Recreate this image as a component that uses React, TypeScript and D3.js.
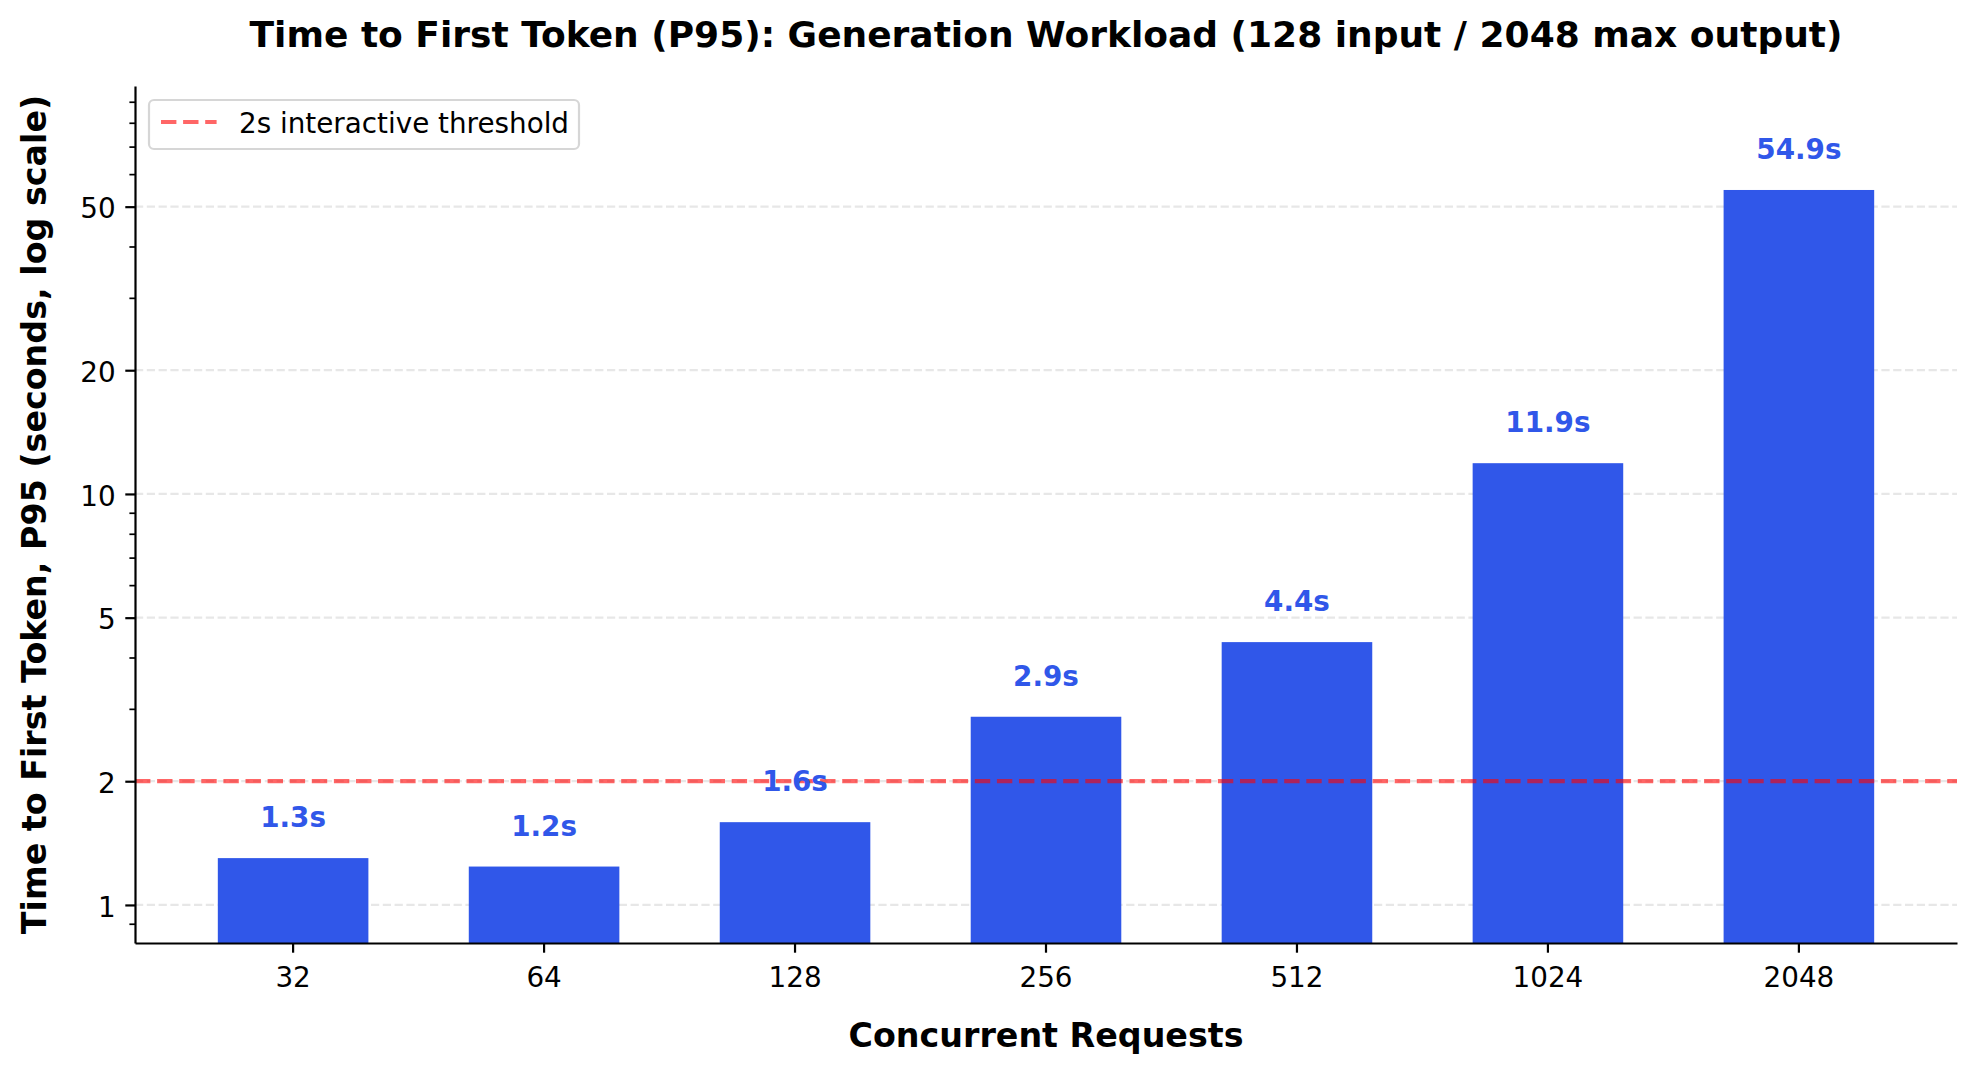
import { useEffect, useRef } from "react";
import * as d3 from "d3";

const categories = ["32", "64", "128", "256", "512", "1024", "2048"];
const ttftP95 = [1.3, 1.24, 1.59, 2.87, 4.36, 11.88, 54.9];
const majorTicks = [1, 2, 5, 10, 20, 50];
const minorTicks = [0.9, 3, 4, 6, 7, 8, 9, 30, 40, 60, 70, 80, 90];
const threshold = 2;

export default function App() {
  const chartRef = useRef<SVGSVGElement>(null);

  useEffect(() => {
    if (!chartRef.current) return;
    d3.select(chartRef.current).selectAll("*").remove();

    const width = 1977;
    const height = 1074;
    const margin = { top: 86, right: 20, bottom: 131, left: 135 };
    const font = "DejaVu Sans, sans-serif";
    const barColor = "#3057e9";

    const svg = d3
      .select(chartRef.current)
      .attr("width", width)
      .attr("height", height)
      .attr("viewBox", `0 0 ${width} ${height}`)
      .style("font-family", font);

    svg.append("rect").attr("width", width).attr("height", height).attr("fill", "#fff");

    const x = d3
      .scaleBand()
      .domain(categories)
      .range([margin.left, width - margin.right])
      .paddingInner(0.4)
      .paddingOuter(0.33);

    const y = d3
      .scaleLog()
      .domain([0.808, 98.3])
      .range([height - margin.bottom, margin.top]);

    // grid
    svg
      .append("g")
      .selectAll("line")
      .data(majorTicks)
      .join("line")
      .attr("x1", margin.left)
      .attr("x2", width - margin.right)
      .attr("y1", (d) => y(d))
      .attr("y2", (d) => y(d))
      .attr("stroke", "#e7e7e7")
      .attr("stroke-width", 2.2)
      .attr("stroke-dasharray", "8.2,3.6");

    // bars
    svg
      .append("g")
      .selectAll("rect")
      .data(ttftP95)
      .join("rect")
      .attr("x", (_, i) => x(categories[i]) || 0)
      .attr("y", (d) => y(d))
      .attr("width", x.bandwidth())
      .attr("height", (d) => y(0.808) - y(d))
      .attr("fill", barColor);

    // threshold line
    svg
      .append("line")
      .attr("x1", margin.left)
      .attr("x2", width - margin.right)
      .attr("y1", y(threshold))
      .attr("y2", y(threshold))
      .attr("stroke", "#ff0000")
      .attr("stroke-opacity", 0.6)
      .attr("stroke-width", 4.2)
      .attr("stroke-dasharray", "15.4,6.7");

    // value labels
    svg
      .append("g")
      .selectAll("text")
      .data(ttftP95)
      .join("text")
      .attr("x", (_, i) => (x(categories[i]) || 0) + x.bandwidth() / 2)
      .attr("y", (d) => y(d) - 31)
      .attr("text-anchor", "middle")
      .attr("fill", barColor)
      .style("font-weight", "bold")
      .style("font-size", "27.8px")
      .text((d) => `${d.toFixed(1)}s`);

    // x-axis
    const xAxis = svg
      .append("g")
      .attr("transform", `translate(0,${height - margin.bottom})`)
      .call(d3.axisBottom(x).tickSize(9.7).tickSizeOuter(0).tickPadding(9.7));
    xAxis.select(".domain").attr("stroke", "#000").attr("stroke-width", 2.2);
    xAxis.selectAll(".tick line").attr("stroke", "#000").attr("stroke-width", 2.2);
    xAxis
      .selectAll(".tick text")
      .attr("dy", "0.88em")
      .attr("fill", "#000")
      .style("font-family", font)
      .style("font-size", "27.8px");

    // y-axis minor ticks
    const yMinor = svg
      .append("g")
      .attr("transform", `translate(${margin.left},0)`)
      .call(
        d3
          .axisLeft(y)
          .tickValues(minorTicks)
          .tickSize(5.6)
          .tickSizeOuter(0)
          .tickFormat(() => "")
      );
    yMinor.select(".domain").remove();
    yMinor.selectAll(".tick line").attr("stroke", "#000").attr("stroke-width", 1.7);

    // y-axis
    const yAxis = svg
      .append("g")
      .attr("transform", `translate(${margin.left},0)`)
      .call(
        d3
          .axisLeft(y)
          .tickValues(majorTicks)
          .tickSize(9.7)
          .tickSizeOuter(0)
          .tickPadding(9.7)
          .tickFormat(d3.format("d"))
      );
    yAxis.select(".domain").attr("stroke", "#000").attr("stroke-width", 2.2);
    yAxis.selectAll(".tick line").attr("stroke", "#000").attr("stroke-width", 2.2);
    yAxis
      .selectAll(".tick text")
      .attr("dy", "0.4em")
      .attr("fill", "#000")
      .style("font-family", font)
      .style("font-size", "27.8px");

    // title
    svg
      .append("text")
      .attr("x", (margin.left + width - margin.right) / 2)
      .attr("y", 47)
      .attr("text-anchor", "middle")
      .style("font-weight", "bold")
      .style("font-size", "36px")
      .text("Time to First Token (P95): Generation Workload (128 input / 2048 max output)");

    // x label
    svg
      .append("text")
      .attr("x", (margin.left + width - margin.right) / 2)
      .attr("y", 1047)
      .attr("text-anchor", "middle")
      .style("font-weight", "bold")
      .style("font-size", "33.3px")
      .text("Concurrent Requests");

    // y label
    svg
      .append("text")
      .attr("transform", `translate(46,${(margin.top + height - margin.bottom) / 2}) rotate(-90)`)
      .attr("text-anchor", "middle")
      .style("font-weight", "bold")
      .style("font-size", "33.3px")
      .text("Time to First Token, P95 (seconds, log scale)");

    // legend
    const legend = svg.append("g");
    legend
      .append("rect")
      .attr("x", 149)
      .attr("y", 100)
      .attr("width", 430)
      .attr("height", 49)
      .attr("rx", 5)
      .attr("fill", "#fff")
      .attr("fill-opacity", 0.8)
      .attr("stroke", "#d6d6d6")
      .attr("stroke-width", 2.2);
    legend
      .append("line")
      .attr("x1", 161)
      .attr("x2", 216.6)
      .attr("y1", 122)
      .attr("y2", 122)
      .attr("stroke", "#ff0000")
      .attr("stroke-opacity", 0.6)
      .attr("stroke-width", 4.2)
      .attr("stroke-dasharray", "15.4,6.7");
    legend
      .append("text")
      .attr("x", 239)
      .attr("y", 133)
      .style("font-size", "27.8px")
      .text("2s interactive threshold");
  }, []);

  return (
    <div style={{ position: "absolute", left: 0, top: 0 }}>
      <svg ref={chartRef} style={{ display: "block" }}></svg>
    </div>
  );
}
